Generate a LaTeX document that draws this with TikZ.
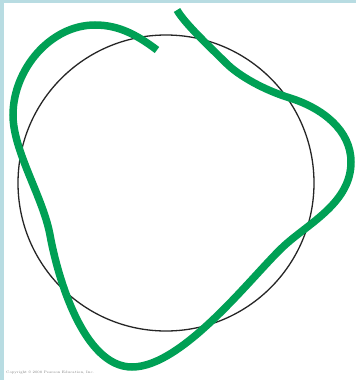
\documentclass[tikz,border=0pt]{standalone}
\usepackage{tikz}
\usetikzlibrary{calc}
\usepackage{xcolor}
\definecolor{wavegreen}{RGB}{0,160,85}
\definecolor{framecolor}{RGB}{184,220,226}
\tikzset{
  orbit/.style = {draw=black!85, line width=1.3pt},
  wave/.style  = {draw=wavegreen, line width=7.5pt, line cap=butt},
  note/.style  = {font=\fontsize{3.5}{4}\selectfont, text=gray, anchor=west, inner sep=0pt},
}

\begin{document}
\begin{tikzpicture}[x=1pt, y=-1pt]
  % frame and canvas
  \useasboundingbox (0,0) rectangle (356,380);
  \fill[framecolor] (0,0) rectangle (356,380);
  \fill[white] (4,3) rectangle (356,380);
  % orbit
  \coordinate (c) at (166,183);
  \draw[orbit] (c) circle[radius=148];
  % standing wave round the orbit
  \coordinate (w0) at (157,50);
  \coordinate (w1) at (95,25);
  \coordinate (w2) at (13,115);
  \coordinate (w3) at (50,235);
  \coordinate (w4) at (132,367);
  \coordinate (w5) at (285,245);
  \coordinate (w6) at (351,162);
  \coordinate (w7) at (290,98);
  \coordinate (w8) at (226,63);
  \coordinate (w9) at (177,10);
  \draw[wave] (w0) .. controls +(-20,-15) and +(24,0) .. (w1)
    .. controls +(-45,0) and +(0,-45) .. (w2)
    .. controls +(0,36) and +(-7,-38) .. (w3)
    .. controls +(8,44) and +(-48,0) .. (w4)
    .. controls +(52,0) and +(-30,27) .. (w5)
    .. controls +(25,-22.5) and +(0,40) .. (w6)
    .. controls +(0,-32) and +(32,10) .. (w7)
    .. controls +(-26,-8) and +(13,13) .. (w8)
    .. controls +(-15,-15) and +(8,14) .. (w9);
  % caption
  \node[note] (copy) at (6,373) {Copyright \textcopyright\ 2008 Pearson Education, Inc.};
\end{tikzpicture}
\end{document}
